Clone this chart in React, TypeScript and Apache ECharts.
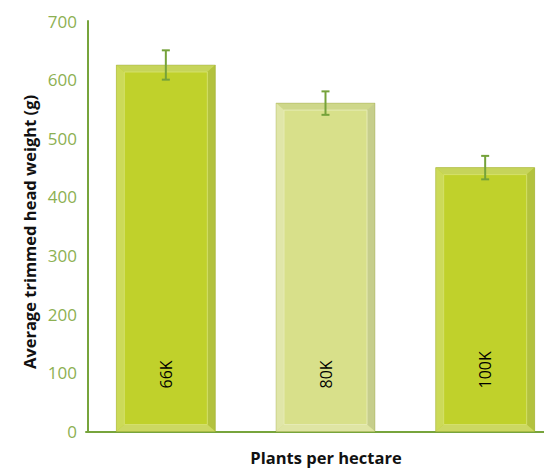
import React, { useEffect, useRef } from "react";
import * as echarts from "echarts";

const categories = ["66K", "80K", "100K"];
const values = [625, 560, 450];
const errors = [25, 20, 20];
const yMin = 0;
const yMax = 700;
const yInterval = 100;
const xTitle = "Plants per hectare";
const yTitle = "Average trimmed head weight (g)";

type Pal = { base: string; top: string; left: string; right: string; bottom: string; inner: string };
const bright: Pal = { base: "#C0D12B", top: "#C6D45A", left: "#CCDA58", right: "#B3C23E", bottom: "#CCD862", inner: "#D4E06A" };
const light: Pal = { base: "#D8E08A", top: "#CED78A", left: "#E0E6A8", right: "#C6CE8C", bottom: "#DFE5A4", inner: "#E6EBB4" };
const palettes = [bright, light, bright];

const axisGreen = "#77A43C";
const tickGreen = "#8DB052";
const errGreen = "#75A23A";
const FONT = "'Open Sans', 'DejaVu Sans', sans-serif";

export default function App() {
  const ref = useRef<HTMLDivElement>(null);
  useEffect(() => {
    if (!ref.current) return;
    const chart = echarts.init(ref.current, null, { renderer: "svg" });
    const barData = categories.map((c, i) => [i, values[i]]);
    const errData = categories.map((c, i) => [i, values[i] - errors[i], values[i] + errors[i]]);
    chart.setOption({
      animation: false,
      grid: { left: 86, width: 479, top: 21, bottom: 36.5, containLabel: false },
      xAxis: {
        type: "category",
        data: categories,
        axisLine: { show: true, lineStyle: { color: axisGreen, width: 2 } },
        axisTick: { show: false },
        axisLabel: { show: false },
        splitLine: { show: false },
      },
      yAxis: {
        type: "value",
        min: yMin,
        max: yMax,
        interval: yInterval,
        offset: -2,
        axisLine: { show: true, lineStyle: { color: axisGreen, width: 2 } },
        axisTick: { show: false },
        splitLine: { show: false },
        axisLabel: { color: tickGreen, fontSize: 17, fontFamily: FONT, margin: 11 },
      },
      graphic: [
        {
          type: "text",
          x: 29,
          y: 232,
          rotation: Math.PI / 2,
          style: {
            text: yTitle,
            fill: "#111",
            font: `bold 16.5px ${FONT}`,
            align: "center",
            verticalAlign: "middle",
          },
        },
        {
          type: "text",
          x: 326,
          y: 457,
          style: {
            text: xTitle,
            fill: "#111",
            font: `bold 16.5px ${FONT}`,
            align: "center",
            verticalAlign: "middle",
          },
        },
      ],
      series: [
        {
          type: "custom",
          data: barData,
          renderItem: (params: any, api: any) => {
            const i = api.value(0);
            const v = api.value(1);
            const top = api.coord([i, v]);
            const base = api.coord([i, 0]);
            const bw = api.size([1, 0])[0] * 0.62;
            const x0 = top[0] - bw / 2;
            const x1 = top[0] + bw / 2;
            const yT = top[1];
            const yB = base[1];
            const b = 8;
            const bt = 7;
            const p = palettes[params.dataIndex];
            return {
              type: "group",
              children: [
                { type: "rect", shape: { x: x0, y: yT, width: bw, height: yB - yT }, style: { fill: p.base } },
                { type: "polygon", shape: { points: [[x0, yT], [x1, yT], [x1 - b, yT + bt], [x0 + b, yT + bt]] }, style: { fill: p.top } },
                { type: "polygon", shape: { points: [[x0, yT], [x0 + b, yT + bt], [x0 + b, yB - bt], [x0, yB]] }, style: { fill: p.left } },
                { type: "polygon", shape: { points: [[x1, yT], [x1, yB], [x1 - b, yB - bt], [x1 - b, yT + bt]] }, style: { fill: p.right } },
                { type: "polygon", shape: { points: [[x0, yB], [x0 + b, yB - bt], [x1 - b, yB - bt], [x1, yB]] }, style: { fill: p.bottom } },
                { type: "rect", shape: { x: x0 + b, y: yT + bt, width: bw - 2 * b, height: yB - yT - 2 * bt }, style: { fill: "none", stroke: p.inner, lineWidth: 1 } },
                { type: "rect", shape: { x: x0, y: yT, width: bw, height: yB - yT }, style: { fill: "none", stroke: "rgba(150,160,60,0.35)", lineWidth: 1 } },
                {
                  type: "text",
                  x: top[0],
                  y: yB - 43,
                  rotation: Math.PI / 2,
                  style: {
                    text: categories[params.dataIndex],
                    fill: "#000",
                    font: `16px ${FONT}`,
                    align: "left",
                    verticalAlign: "middle",
                  },
                },
              ],
            };
          },
          z: 2,
        },
        {
          type: "custom",
          data: errData,
          renderItem: (params: any, api: any) => {
            const i = api.value(0);
            const lo = api.coord([i, api.value(1)]);
            const hi = api.coord([i, api.value(2)]);
            const cap = 4;
            const st = { stroke: errGreen, lineWidth: 2 };
            return {
              type: "group",
              children: [
                { type: "line", shape: { x1: lo[0], y1: lo[1], x2: hi[0], y2: hi[1] }, style: st },
                { type: "line", shape: { x1: lo[0] - cap, y1: lo[1], x2: lo[0] + cap, y2: lo[1] }, style: st },
                { type: "line", shape: { x1: hi[0] - cap, y1: hi[1], x2: hi[0] + cap, y2: hi[1] }, style: st },
              ],
            };
          },
          z: 3,
        },
      ],
    });
    return () => chart.dispose();
  }, []);
  return (
    <div style={{ position: "absolute", left: 0, top: 0, width: 544, height: 468, overflow: "hidden" }}>
      <div ref={ref} style={{ width: 570, height: 468 }} />
    </div>
  );
}
